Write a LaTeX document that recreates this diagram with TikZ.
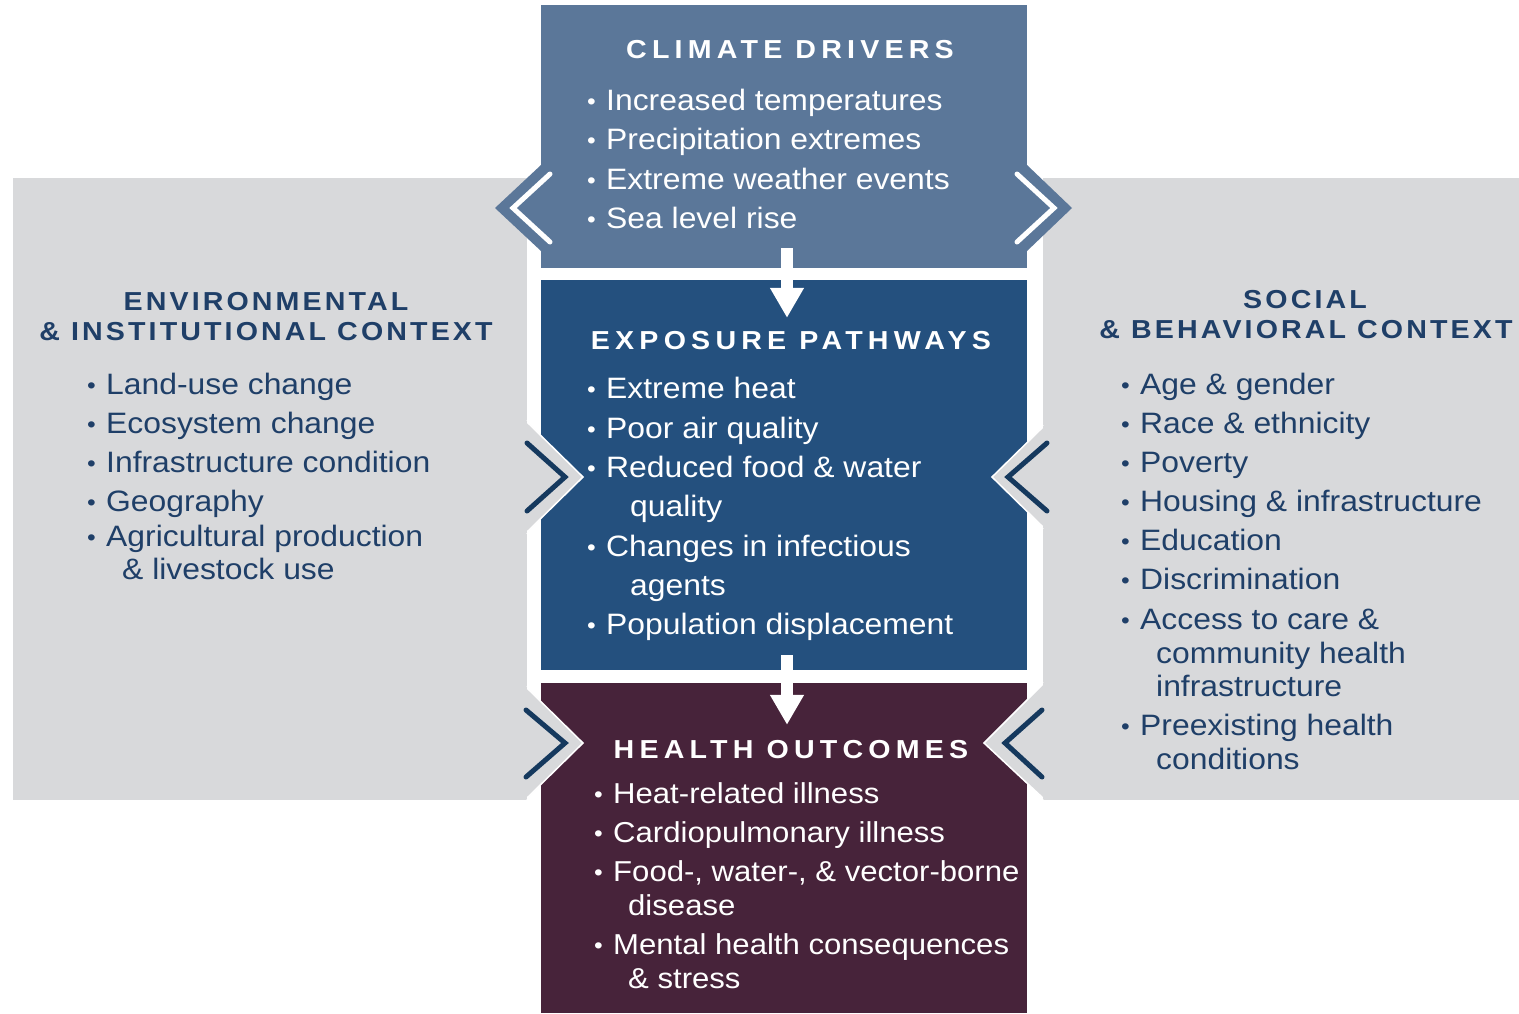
\documentclass[tikz,border=0pt]{standalone}
\usepackage{fontspec}
\setmainfont{Liberation Sans}[FakeStretch=1.08]
\newfontfamily\chfont{Liberation Sans}[FakeStretch=1.1,LetterSpace=20]
\newfontfamily\shfont{Liberation Sans}[FakeStretch=1.1,LetterSpace=12]
\usetikzlibrary{arrows.meta}
\definecolor{climc}{HTML}{5B7799}
\definecolor{expoc}{HTML}{24507E}
\definecolor{healc}{HTML}{47233A}
\definecolor{greyc}{HTML}{D8D9DB}
\definecolor{navyt}{HTML}{1F3F68}
\definecolor{chevc}{HTML}{15395E}
\newcommand\bul{\makebox[20pt][l]{\hspace{1pt}\raisebox{1pt}{\fontsize{23}{23}\selectfont •}}}
\newcommand\Itm[5]{\node[#1,anchor=base west] (#2) at (#3,#4) {#5};}
\tikzset{
  panel/.style={fill=greyc,draw=none},
  cbox/.style={inner sep=0pt,minimum width=486pt,draw=none},
  ctxt/.style={inner sep=0pt,text=white,font=\fontsize{29.5}{33}\selectfont},
  htxt/.style={inner sep=0pt,text=white,font=\fontsize{28.8}{33}\selectfont},
  stxt/.style={inner sep=0pt,text=navyt,font=\fontsize{29.5}{33}\selectfont},
  chd/.style={inner sep=0pt,anchor=base,text=white,font=\chfont\bfseries\fontsize{26}{28}\selectfont},
  shd/.style={inner sep=0pt,anchor=base,text=navyt,font=\shfont\bfseries\fontsize{26}{28}\selectfont},
  wchev/.style={draw=white,line width=5pt,line cap=round,line join=miter},
  nchev/.style={draw=chevc,line width=5pt,line cap=round,line join=miter},
  warrow/.style={draw=white,line width=12pt,-{Triangle[width=32pt,length=30pt]}},
  gtri/.style={fill=greyc,draw=white,line width=1.5pt}
}
\begin{document}
\begin{tikzpicture}[x=1pt,y=-1pt]
\useasboundingbox[fill=white] (0,0) rectangle (1519,1013);
% side panels
\node[panel,inner sep=0pt,minimum width=514pt,minimum height=622pt] (lpanel) at (270,489) {};
\node[panel,inner sep=0pt,minimum width=476pt,minimum height=622pt] (rpanel) at (1281,489) {};
% centre boxes
\node[cbox,fill=climc,minimum height=263pt] (climate) at (784,136.5) {};
\node[cbox,fill=expoc,minimum height=390pt] (expo) at (784,475) {};
\node[cbox,fill=healc,minimum height=330pt] (health) at (784,848) {};
% climate protrusions
\fill[climc] (541,165) -- (495,208) -- (541,251) -- cycle;
\fill[climc] (1027,165) -- (1072,208) -- (1027,251) -- cycle;
\draw[wchev] (550,174) -- (513,208) -- (550,242);
\draw[wchev] (1017,174) -- (1054,208) -- (1017,242);
% grey protrusions into exposure and health
\path[gtri] (526,421) -- (583,477) -- (526,533);
\path[gtri] (1044,426) -- (992,477) -- (1044,528);
\path[gtri] (526,687) -- (583,743) -- (526,799);
\path[gtri] (1044,683) -- (984,743) -- (1044,799);
\fill[greyc] (515,421) rectangle (527,533);
\fill[greyc] (1043,426) rectangle (1050,528);
\fill[greyc] (515,687) rectangle (527,799);
\fill[greyc] (1043,683) rectangle (1050,799);
\draw[nchev] (527,443) -- (565,477) -- (527,511);
\draw[nchev] (1047,443) -- (1008,477) -- (1047,511);
\draw[nchev] (526,710) -- (565,743) -- (526,777);
\draw[nchev] (1042,710) -- (1005,743) -- (1042,777);
% arrows
\draw[warrow] ([xshift=3pt,yshift=20pt]climate.south) -- ([xshift=3pt,yshift=-38pt]expo.north);
\draw[warrow] ([xshift=3pt,yshift=15pt]expo.south) -- ([xshift=3pt,yshift=-42pt]health.north);
% headings
\node[chd] (hclim) at (790,58) {CLIMATE DRIVERS};
\node[chd] (hexpo) at (791,349) {EXPOSURE PATHWAYS};
\node[chd] (hheal) at (791,758) {HEALTH OUTCOMES};
\node[shd] (henv1) at (266,310) {ENVIRONMENTAL};
\node[shd] (henv2) at (266,340) {\& INSTITUTIONAL CONTEXT};
\node[shd] (hsoc1) at (1305,308) {SOCIAL};
\node[shd] (hsoc2) at (1306,338) {\& BEHAVIORAL CONTEXT};
% climate items
\Itm{ctxt}{c1}{586}{110}{\bul Increased temperatures}
\Itm{ctxt}{c2}{586}{149}{\bul Precipitation extremes}
\Itm{ctxt}{c3}{586}{189}{\bul Extreme weather events}
\Itm{ctxt}{c4}{586}{228}{\bul Sea level rise}
% exposure items
\Itm{ctxt}{e1}{586}{398}{\bul Extreme heat}
\Itm{ctxt}{e2}{586}{438}{\bul Poor air quality}
\Itm{ctxt}{e3}{586}{477}{\bul Reduced food \& water}
\Itm{ctxt}{e3b}{630}{516}{quality}
\Itm{ctxt}{e4}{586}{556}{\bul Changes in infectious}
\Itm{ctxt}{e4b}{630}{595}{agents}
\Itm{ctxt}{e5}{586}{634}{\bul Population displacement}
% health items
\Itm{htxt}{o1}{593}{803}{\bul Heat-related illness}
\Itm{htxt}{o2}{593}{842}{\bul Cardiopulmonary illness}
\Itm{htxt}{o3}{593}{881}{\bul Food-, water-, \& vector-borne}
\Itm{htxt}{o3b}{628}{915}{disease}
\Itm{htxt}{o4}{593}{954}{\bul Mental health consequences}
\Itm{htxt}{o4b}{628}{988}{\& stress}
% environmental items
\Itm{stxt}{l1}{86}{394}{\bul Land-use change}
\Itm{stxt}{l2}{86}{433}{\bul Ecosystem change}
\Itm{stxt}{l3}{86}{472}{\bul Infrastructure condition}
\Itm{stxt}{l4}{86}{511}{\bul Geography}
\Itm{stxt}{l5}{86}{546}{\bul Agricultural production}
\Itm{stxt}{l5b}{122}{579}{\& livestock use}
% social items
\Itm{stxt}{r1}{1120}{394}{\bul Age \& gender}
\Itm{stxt}{r2}{1120}{433}{\bul Race \& ethnicity}
\Itm{stxt}{r3}{1120}{472}{\bul Poverty}
\Itm{stxt}{r4}{1120}{511}{\bul Housing \& infrastructure}
\Itm{stxt}{r5}{1120}{550}{\bul Education}
\Itm{stxt}{r6}{1120}{589}{\bul Discrimination}
\Itm{stxt}{r7}{1120}{629}{\bul Access to care \&}
\Itm{stxt}{r7b}{1156}{663}{community health}
\Itm{stxt}{r7c}{1156}{696}{infrastructure}
\Itm{stxt}{r8}{1120}{735}{\bul Preexisting health}
\Itm{stxt}{r8b}{1156}{769}{conditions}
\end{tikzpicture}
\end{document}
